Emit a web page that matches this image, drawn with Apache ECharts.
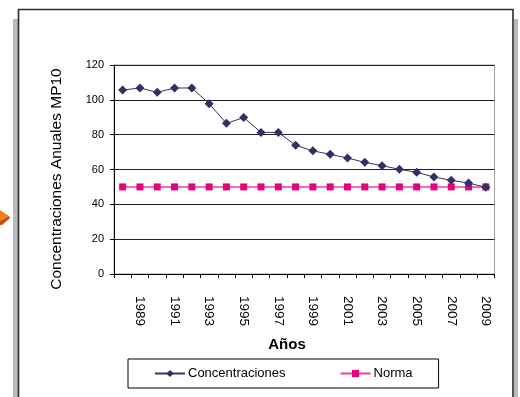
<!DOCTYPE html>
<html>
<head>
<meta charset="utf-8">
<script src="https://cdn.jsdelivr.net/npm/echarts@6/dist/echarts.min.js"></script>
<style>
  html, body { margin: 0; padding: 0; background: #ffffff; }
  #chart { width: 520px; height: 397px; }
</style>
</head>
<body>
<div id="chart"></div>
<script>
// Years on the category axis
const years = ['1988', '1989', '1990', '1991', '1992', '1993', '1994', '1995', '1996', '1997', '1998',
               '1999', '2000', '2001', '2002', '2003', '2004', '2005', '2006', '2007', '2008', '2009'];

// Annual PM10 concentrations
const concentraciones = [105.6, 106.8, 104.3, 106.8, 106.8, 97.8, 86.5, 89.8, 81.3, 81.3, 73.9,
                         70.7, 68.7, 66.6, 64.1, 62.2, 60.1, 58.4, 55.7, 53.8, 52.2, 49.8];

// Annual standard
const norma = [50, 50, 50, 50, 50, 50, 50, 50, 50, 50, 50,
               50, 50, 50, 50, 50, 50, 50, 50, 50, 50, 50];

// Value axis ticks
const yTicks = [0, 20, 40, 60, 80, 100, 120];

const FONT = '"Liberation Sans", Arial, sans-serif';
const chart = echarts.init(document.getElementById('chart'), null, { renderer: 'canvas' });

chart.setOption({
  animation: false,
  backgroundColor: '#ffffff',
  textStyle: { fontFamily: FONT, color: '#000' },
  grid: { left: 114, right: 25.5, top: 65, bottom: 123, show: true, borderColor: '#a0a0a0', borderWidth: 1 },
  xAxis: {
    type: 'category',
    data: years,
    boundaryGap: true,
    axisLine: { lineStyle: { color: '#000', width: 1 } },
    axisTick: { show: true, interval: 0, length: 4, lineStyle: { color: '#000' } },
    axisLabel: {
      rotate: -90,
      margin: 22,
      fontSize: 13.5,
      color: '#000',
      fontFamily: FONT,
      padding: [7, 0, 0, 0],
      interval: (idx, val) => Number(val) % 2 === 1
    },
    splitLine: { show: false }
  },
  yAxis: {
    type: 'value',
    min: yTicks[0],
    max: yTicks[yTicks.length - 1],
    interval: yTicks[1] - yTicks[0],
    axisLine: { show: true, lineStyle: { color: '#000', width: 1 } },
    axisTick: { show: true, length: 4, lineStyle: { color: '#000' } },
    axisLabel: { fontSize: 11, color: '#000', margin: 10, fontFamily: FONT },
    splitLine: { show: true, lineStyle: { color: '#222', width: 1 } }
  },
  legend: {
    left: 128,
    top: 359,
    orient: 'horizontal',
    padding: [8, 26, 8, 26],
    itemGap: 54,
    itemWidth: 30,
    itemHeight: 9,
    borderColor: '#000',
    borderWidth: 1,
    backgroundColor: '#fff',
    textStyle: { fontSize: 13, color: '#000', fontFamily: FONT, padding: [0, 0, 0, -2] },
    data: ['Concentraciones', 'Norma']
  },
  series: [
    {
      name: 'Concentraciones',
      type: 'line',
      data: concentraciones,
      symbol: 'diamond',
      symbolSize: 9,
      lineStyle: { color: '#333366', width: 1 },
      itemStyle: { color: '#2e3066' },
      z: 3
    },
    {
      name: 'Norma',
      type: 'line',
      data: norma,
      symbol: 'rect',
      symbolSize: 7,
      lineStyle: { color: '#f0409c', width: 1.5 },
      itemStyle: { color: '#e5007d' },
      z: 2
    }
  ],
  graphic: [
    // chart frame shadow bands
    { type: 'rect', shape: { x: 13, y: 19, width: 5, height: 390 }, style: { fill: '#b9b9c1' }, silent: true },
    { type: 'rect', shape: { x: 514, y: 19, width: 4, height: 390 }, style: { fill: '#b9b9c1' }, silent: true },
    // chart frame
    { type: 'rect', shape: { x: 18.5, y: 9.5, width: 494.5, height: 400 }, style: { fill: null, stroke: '#2a2a2a', lineWidth: 1.6 }, silent: true },
    // orange pointer on the left edge
    { type: 'polygon', shape: { points: [[0, 210], [9, 216], [0, 221]] }, style: { fill: '#f08020' }, silent: true },
    { type: 'polygon', shape: { points: [[0, 221], [9, 216], [10, 218], [2, 225], [0, 225]] }, style: { fill: '#c0500e' }, silent: true },
    // axis titles
    {
      type: 'text', x: 57, y: 179, rotation: Math.PI / 2,
      style: { text: 'Concentraciones Anuales MP10', font: '15.5px ' + FONT, fill: '#000', textAlign: 'center', textVerticalAlign: 'middle' },
      silent: true
    },
    {
      type: 'text', x: 287, y: 345,
      style: { text: 'Años', font: 'bold 15px ' + FONT, fill: '#000', textAlign: 'center', textVerticalAlign: 'middle' },
      silent: true
    }
  ]
});
</script>
</body>
</html>
